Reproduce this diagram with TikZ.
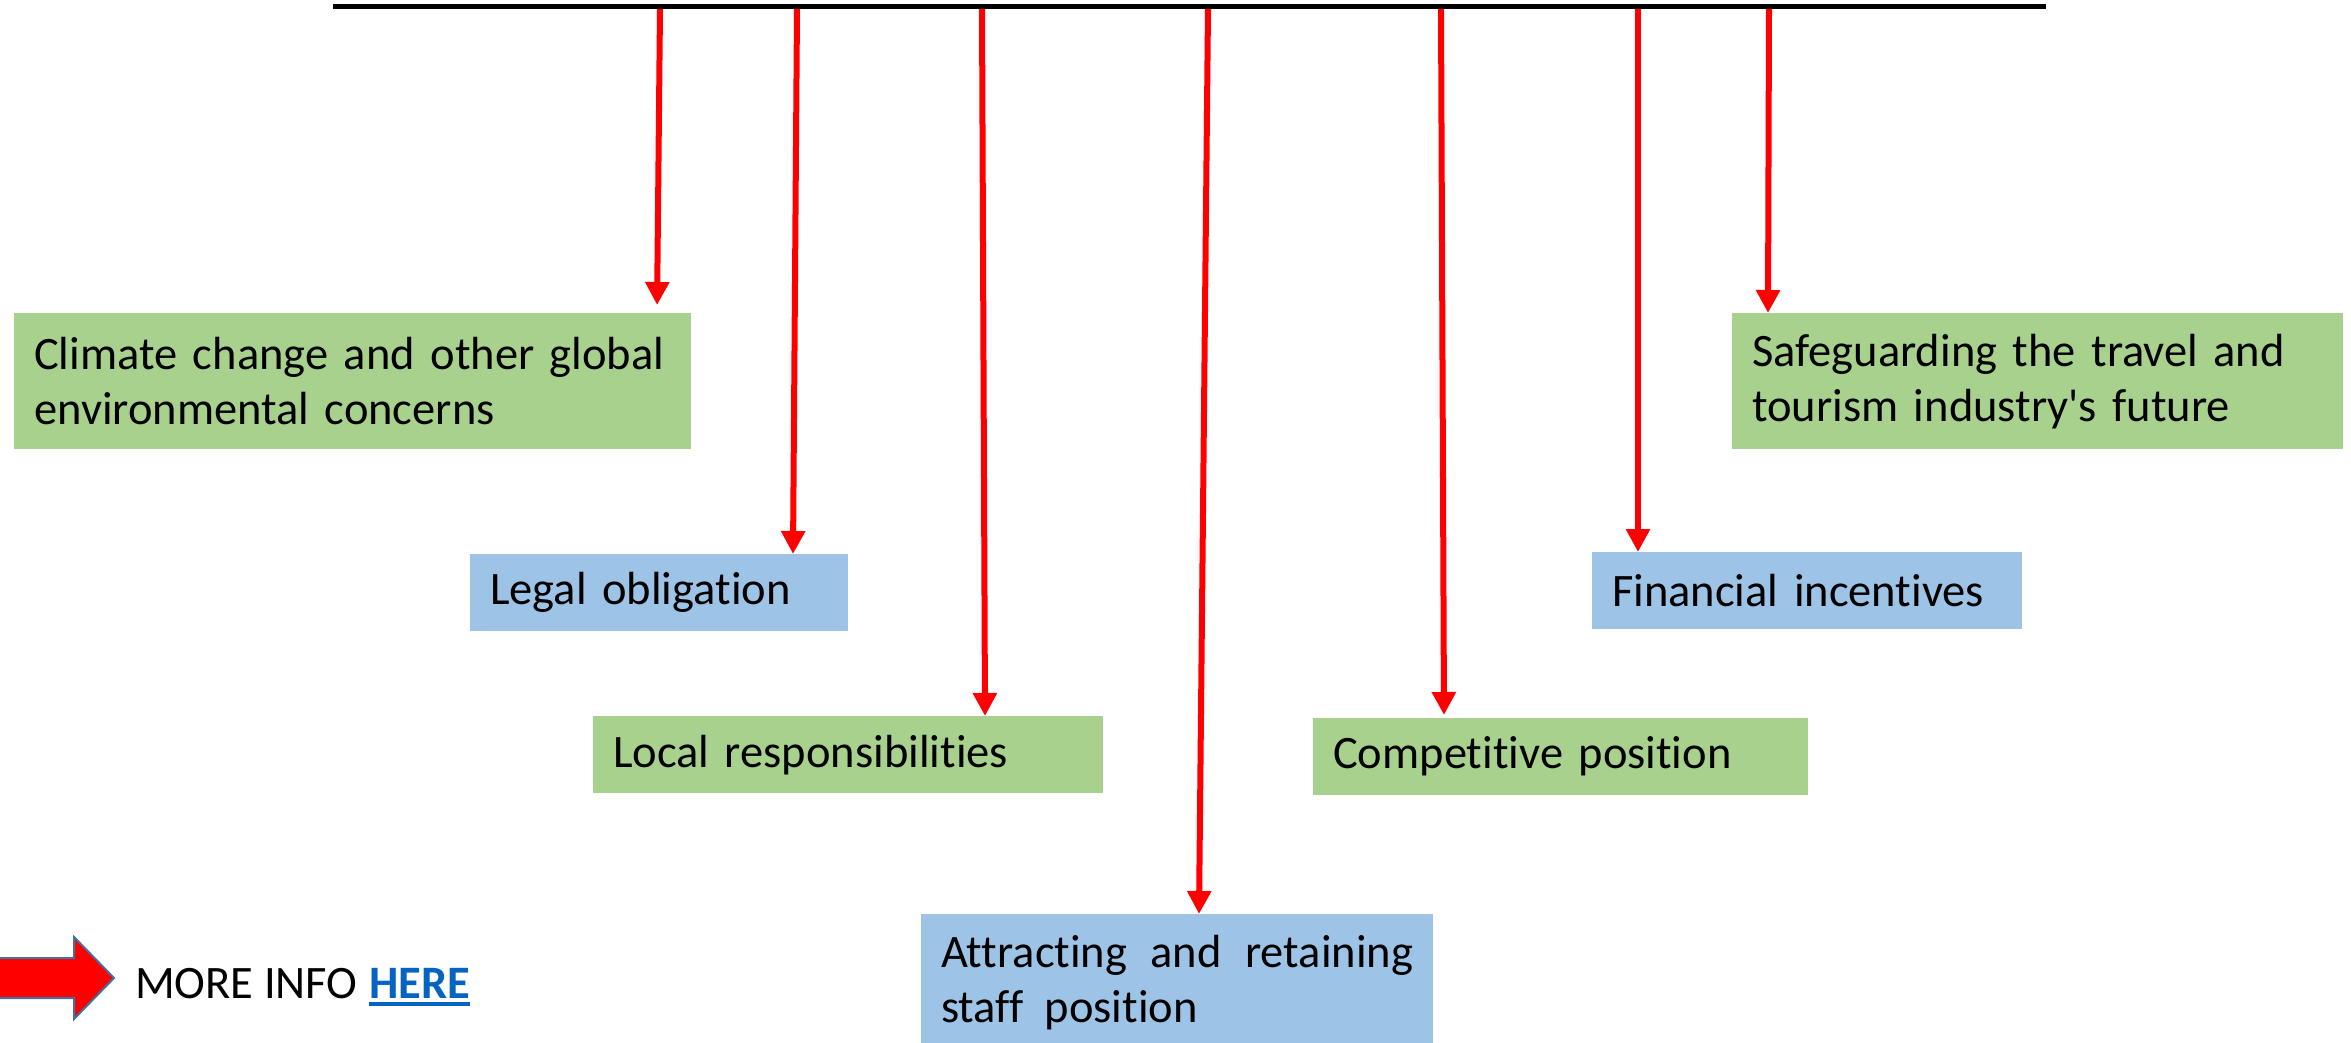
\documentclass[tikz,border=0pt]{standalone}
\usepackage{fontspec}
\setmainfont{Carlito}[Ligatures={TeXOff,NoCommon}]
\usetikzlibrary{arrows.meta}

\definecolor{boxgreen}{HTML}{A9D18E}
\definecolor{boxblue}{HTML}{9DC3E6}
\definecolor{arrowred}{HTML}{FF0000}
\definecolor{arrowedge}{HTML}{41719C}
\definecolor{linkblue}{HTML}{0563C1}

\tikzset{
  reason/.style={anchor=north west, inner xsep=20pt, inner ysep=0pt,
    align=left, font=\fontsize{46.5}{55}\selectfont},
  greenbox/.style={reason, fill=boxgreen},
  bluebox/.style={reason, fill=boxblue},
  redarrow/.style={draw=arrowred, line width=6pt,
    -{Triangle[length=23pt,width=23pt]}},
}

\begin{document}
\begin{tikzpicture}[x=1pt,y=-1pt]
\useasboundingbox (0,0) rectangle (2351,1043);
\clip (0,0) rectangle (2351,1043);

% heading rule
\draw [line width=5pt] (333,7) -- (2046,7);
\coordinate (s1) at (660,9);
\coordinate (s2) at (797,9);
\coordinate (s3) at (982,9);
\coordinate (s4) at (1208,9);
\coordinate (s5) at (1441,9);
\coordinate (s6) at (1638,9);
\coordinate (s7) at (1769,9);

% reasons
\node [greenbox, minimum width=677pt, minimum height=136pt, text width=637pt]
  (climate) at (14,313) {Climate change and other global\\ environmental concerns};
\node [bluebox, minimum width=378pt, minimum height=77pt, text width=338pt]
  (legal) at (470,554) {Legal obligation};
\node [greenbox, minimum width=510pt, minimum height=77pt, text width=470pt]
  (local) at (593,716) {Local responsibilities};
\node [bluebox, minimum width=512pt, minimum height=136pt, text width=472pt, align=justify]
  (attract) at (921,914) {Attracting and retaining staff~ position};
\node [greenbox, minimum width=495pt, minimum height=77pt, text width=455pt]
  (compet) at (1313,718) {Competitive position};
\node [bluebox, minimum width=430pt, minimum height=77pt, text width=390pt]
  (finance) at (1592,552) {Financial incentives};
\node [greenbox, minimum width=611pt, minimum height=136pt, text width=571pt]
  (future) at (1732,313) {Safeguarding the travel and\\ tourism industry's future};

% arrows
\draw [redarrow, shorten >=8pt] (s1) -- ([xshift=643pt]climate.north west);
\draw [redarrow] (s2) -- ([xshift=323pt]legal.north west);
\draw [redarrow] (s3) -- ([xshift=392pt]local.north west);
\draw [redarrow] (s4) -- ([xshift=278pt]attract.north west);
\draw [redarrow, shorten >=3pt] (s5) -- ([xshift=131pt]compet.north west);
\draw [redarrow] (s6) -- ([xshift=46pt]finance.north west);
\draw [redarrow] (s7) -- ([xshift=36pt]future.north west);

% more info
\draw [fill=arrowred, draw=arrowedge, line width=2pt]
  (-5,958) -- (74,958) -- (74,937) -- (114,978) -- (74,1019) -- (74,998) -- (-5,998) -- cycle;
\node [anchor=base west, inner sep=0pt, font=\fontsize{46.5}{55}\selectfont]
  (more) at (135,998) {MORE INFO};
\node [anchor=base west, inner sep=0pt, font=\fontsize{46.5}{55}\selectfont\bfseries,
  text=linkblue] (here) at ([xshift=11pt]more.base east) {HERE};
\draw [linkblue, line width=4pt] ([yshift=-6pt]here.base west) -- ([yshift=-6pt]here.base east);
\end{tikzpicture}
\end{document}
